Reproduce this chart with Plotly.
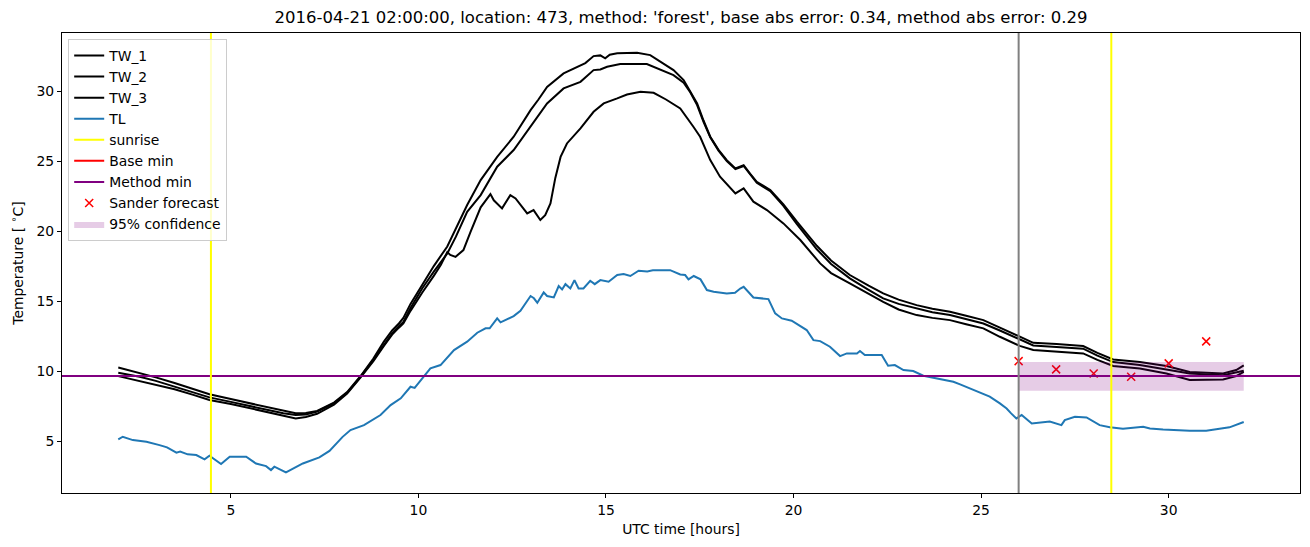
import plotly.graph_objects as go

# TW sensors (three black lines), hours UTC and temperature
tw1_hours = [2.0, 2.57, 3.0, 3.5, 4.0, 4.43, 5.0, 5.5, 6.0, 6.4, 6.73, 7.0, 7.3, 7.75, 8.1, 8.46,
             8.8, 9.08, 9.3, 9.48, 9.6, 9.79, 10.1, 10.41, 10.77, 11.0, 11.3, 11.66, 12.1, 12.54,
             12.99, 13.2, 13.43, 13.87, 14.23, 14.45, 14.67, 14.85, 14.98, 15.1, 15.3, 15.55,
             15.83, 16.18, 16.45, 16.8, 17.07, 17.25, 17.43, 17.6, 17.78, 18.0, 18.22, 18.45,
             18.67, 18.84, 19.02, 19.38, 19.73, 20.09, 20.62, 21.0, 21.5, 22.0, 22.39, 22.8,
             23.28, 23.7, 24.17, 24.6, 25.06, 25.5, 26.03, 26.39, 27.01, 27.72, 28.1, 28.52,
             29.23, 29.94, 30.56, 31.45, 31.8, 32.0]
tw1_temp = [10.26, 9.88, 9.55, 9.15, 8.72, 8.34, 8.0, 7.7, 7.4, 7.15, 6.98, 7.0, 7.15, 7.75, 8.5, 9.65,
            10.9, 12.1, 12.9, 13.4, 13.8, 14.8, 16.2, 17.5, 18.9, 20.2, 21.86, 23.64, 25.3, 26.74,
            28.64, 29.4, 30.3, 31.26, 31.74, 32.0, 32.5, 32.55, 32.34, 32.6, 32.7, 32.72,
            32.74, 32.57, 32.1, 31.5, 30.79, 30.0, 29.12, 27.9, 26.74, 25.8, 25.07, 24.48,
            24.71, 24.1, 23.52, 22.93, 21.9, 20.67, 18.95, 17.9, 16.86, 16.1, 15.55, 15.1,
            14.71, 14.45, 14.24, 13.95, 13.64, 13.1, 12.45, 12.02, 11.93, 11.79, 11.3, 10.83,
            10.64, 10.36, 9.93, 9.83, 10.07, 10.4]

tw2_hours = [2.0, 2.57, 3.0, 3.5, 4.0, 4.43, 5.0, 5.5, 6.0, 6.4, 6.73, 7.0, 7.3, 7.75, 8.1, 8.46,
             8.8, 9.08, 9.3, 9.48, 9.6, 9.79, 10.1, 10.41, 10.77, 11.0, 11.3, 11.66, 12.1, 12.54,
             12.99, 13.43, 13.87, 14.32, 14.67, 14.85, 15.03, 15.38, 16.09, 16.45, 16.8, 17.07,
             17.25, 17.43, 17.6, 17.78, 18.0, 18.22, 18.45, 18.67, 18.84, 19.02, 19.38, 19.73,
             20.09, 20.62, 21.0, 21.5, 22.0, 22.39, 22.8, 23.28, 23.7, 24.17, 24.6, 25.06, 25.5,
             26.03, 26.39, 27.01, 27.72, 28.1, 28.52, 29.23, 29.94, 30.56, 31.45, 31.8, 32.0]
tw2_temp = [9.88, 9.6, 9.3, 8.9, 8.5, 8.12, 7.8, 7.5, 7.2, 6.98, 6.86, 6.9, 7.1, 7.7, 8.45, 9.6,
            10.8, 11.9, 12.7, 13.2, 13.5, 14.5, 15.9, 17.1, 18.4, 19.6, 21.38, 22.57, 24.6, 25.79,
            27.45, 29.12, 30.19, 30.66, 31.5, 31.55, 31.74, 31.93, 31.93, 31.5, 31.14, 30.6,
            29.9, 29.0, 27.8, 26.7, 25.75, 25.0, 24.42, 24.65, 24.05, 23.45, 22.85, 21.8,
            20.5, 18.7, 17.65, 16.62, 15.8, 15.19, 14.8, 14.48, 14.2, 14.0, 13.7, 13.4, 12.9,
            12.26, 11.83, 11.72, 11.6, 11.1, 10.64, 10.43, 10.12, 9.83, 9.71, 9.88, 10.02]

tw3_hours = [2.0, 2.57, 3.0, 3.5, 4.0, 4.43, 5.0, 5.5, 6.0, 6.4, 6.73, 7.0, 7.3, 7.75, 8.1, 8.46,
             8.8, 9.08, 9.3, 9.48, 9.6, 9.79, 10.1, 10.41, 10.6, 10.77, 10.85, 10.99, 11.2, 11.39,
             11.66, 11.92, 12.01, 12.23, 12.45, 12.59, 12.9, 13.07, 13.25, 13.38, 13.52, 13.65,
             13.79, 13.96, 14.32, 14.67, 14.94, 15.3, 15.56, 15.92, 16.27, 16.6, 16.98, 17.33,
             17.51, 17.78, 18.04, 18.45, 18.67, 18.93, 19.29, 19.73, 20.18, 20.71, 21.0, 21.5,
             22.0, 22.39, 22.8, 23.28, 23.7, 24.17, 24.6, 25.06, 25.5, 26.03, 26.39, 27.01,
             27.72, 28.1, 28.52, 29.23, 29.94, 30.56, 31.45, 31.8, 32.0]
tw3_temp = [9.64, 9.3, 9.05, 8.7, 8.3, 7.93, 7.65, 7.35, 7.05, 6.8, 6.62, 6.72, 6.95, 7.6, 8.4, 9.55,
            10.7, 11.8, 12.6, 13.1, 13.4, 14.3, 15.6, 16.8, 17.6, 18.5, 18.3, 18.16, 18.64, 19.95,
            21.7, 22.64, 22.2, 21.62, 22.57, 22.33, 21.26, 21.5, 20.79, 21.14, 21.98, 23.8,
            25.3, 26.26, 27.33, 28.52, 29.12, 29.48, 29.76, 29.95, 29.88, 29.4, 28.76, 27.45,
            26.74, 25.07, 23.88, 22.69, 23.05, 22.1, 21.5, 20.55, 19.36, 17.69, 17.0, 16.26,
            15.5, 14.95, 14.4, 14.0, 13.8, 13.64, 13.35, 13.05, 12.45, 11.8, 11.5, 11.4,
            11.26, 10.8, 10.36, 10.19, 9.83, 9.36, 9.4, 9.64, 9.95]

# TL (air temperature)
tl_hours = [2.0, 2.12, 2.39, 2.75, 3.1, 3.3, 3.55, 3.65, 3.85, 4.08, 4.3, 4.43, 4.74, 4.97, 5.41,
            5.67, 5.94, 6.07, 6.16, 6.47, 6.92, 7.36, 7.63, 7.98, 8.19, 8.55, 8.99, 9.26, 9.53,
            9.79, 9.9, 10.32, 10.59, 10.95, 11.3, 11.57, 11.79, 11.9, 12.1, 12.19, 12.54, 12.72,
            12.99, 13.08, 13.17, 13.34, 13.43, 13.61, 13.74, 13.83, 13.92, 14.05, 14.16, 14.27,
            14.4, 14.58, 14.7, 14.85, 15.07, 15.3, 15.47, 15.65, 15.87, 16.1, 16.25, 16.45,
            16.71, 16.98, 17.11, 17.2, 17.34, 17.52, 17.69, 17.87, 18.22, 18.44, 18.58, 18.67,
            18.93, 19.33, 19.51, 19.69, 19.95, 20.35, 20.53, 20.71, 20.97, 21.24, 21.42, 21.69,
            21.77, 21.9, 22.35, 22.52, 22.7, 22.93, 23.19, 23.46, 23.9, 24.26, 24.44, 24.7,
            24.97, 25.23, 25.5, 25.68, 25.8, 25.94, 26.08, 26.35, 26.83, 27.14, 27.23, 27.5,
            27.81, 28.16, 28.43, 28.78, 29.32, 29.5, 29.85, 30.56, 31.0, 31.62, 32.0]
tl_temp = [5.12, 5.31, 5.07, 4.95, 4.71, 4.55, 4.17, 4.25, 4.05, 4.0, 3.69, 3.95, 3.36, 3.88, 3.88,
           3.4, 3.21, 2.93, 3.17, 2.76, 3.4, 3.83, 4.3, 5.3, 5.79, 6.14, 6.86, 7.57, 8.05,
           8.88, 8.8, 10.19, 10.43, 11.5, 12.1, 12.74, 13.05, 13.05, 13.76, 13.48, 13.93, 14.31,
           15.36, 15.2, 14.88, 15.62, 15.36, 15.26, 16.07, 15.83, 16.21, 15.9, 16.5, 15.9,
           15.9, 16.45, 16.21, 16.5, 16.38, 16.86, 16.93, 16.79, 17.17, 17.12, 17.2, 17.21,
           17.21, 16.9, 16.86, 16.55, 16.79, 16.55, 15.79, 15.67, 15.55, 15.6, 15.9, 16.02,
           15.26, 15.14, 14.12, 13.76, 13.6, 12.93, 12.21, 12.14, 11.74, 11.07, 11.26, 11.26,
           11.43, 11.14, 11.14, 10.38, 10.43, 10.07, 10.0, 9.67, 9.43, 9.24, 9.05, 8.76,
           8.5, 8.17, 7.69, 7.33, 6.98, 6.62, 6.86, 6.26, 6.4, 6.14, 6.5, 6.74,
           6.69, 6.14, 5.98, 5.88, 6.02, 5.9, 5.83, 5.74, 5.74, 5.98, 6.36]

sunrise_hours = [4.47, 28.47]
forecast_start = 26.0
base_min = 9.64
method_min = 9.64

sander_hours = [26, 27, 28, 29, 30, 31]
sander_temp = [10.71, 10.12, 9.83, 9.6, 10.55, 12.12]

conf_hours = [26.0, 32.0]
conf_low = 8.59
conf_high = 10.64

title = "2016-04-21 02:00:00, location: 473, method: 'forest', base abs error: 0.34, method abs error: 0.29"

fig = go.Figure()
for name, xs, ys in [("TW_1", tw1_hours, tw1_temp), ("TW_2", tw2_hours, tw2_temp),
                     ("TW_3", tw3_hours, tw3_temp)]:
    fig.add_trace(go.Scatter(x=xs, y=ys, mode="lines", name=name,
                             line=dict(color="black", width=2)))
fig.add_trace(go.Scatter(x=tl_hours, y=tl_temp, mode="lines", name="TL",
                         line=dict(color="#1f77b4", width=2)))

# legend-only entries for the reference lines
fig.add_trace(go.Scatter(x=[None], y=[None], mode="lines", name="sunrise",
                         line=dict(color="yellow", width=2)))
fig.add_trace(go.Scatter(x=[None], y=[None], mode="lines", name="Base min",
                         line=dict(color="red", width=2)))
fig.add_trace(go.Scatter(x=[None], y=[None], mode="lines", name="Method min",
                         line=dict(color="purple", width=2)))

fig.add_trace(go.Scatter(x=sander_hours, y=sander_temp, mode="markers", name="Sander forecast",
                         marker=dict(symbol="x-thin", size=8, color="red",
                                     line=dict(color="red", width=1.5))))

cx = [conf_hours[0], conf_hours[1], conf_hours[1], conf_hours[0], conf_hours[0]]
cy = [conf_low, conf_low, conf_high, conf_high, conf_low]
fig.add_trace(go.Scatter(x=cx, y=cy, mode="lines", fill="toself", name="95% confidence",
                         fillcolor="rgba(128,0,128,0.2)", line=dict(width=0)))

fig.add_hline(y=base_min, line=dict(color="red", width=2))
fig.add_hline(y=method_min, line=dict(color="purple", width=2))
fig.add_vline(x=forecast_start, line=dict(color="gray", width=2))
for h in sunrise_hours:
    fig.add_vline(x=h, line=dict(color="yellow", width=2))

axis_style = dict(showline=True, linecolor="black", linewidth=1, mirror=True,
                  ticks="outside", ticklen=4, tickcolor="black", showgrid=False,
                  zeroline=False, automargin=False, tickfont=dict(size=13.9, color="black"))
fig.update_xaxes(range=[0.5, 33.5], tickvals=[5, 10, 15, 20, 25, 30],
                 title=dict(text="UTC time [hours]", font=dict(size=13.9, color="black"), standoff=7),
                 **axis_style)
fig.update_yaxes(range=[1.29, 34.15], tickvals=[5, 10, 15, 20, 25, 30],
                 title=dict(text="Temperature [ <sup>∘</sup>C]", font=dict(size=13.9, color="black"),
                            standoff=11),
                 **axis_style)

# the page body adds an 8px offset, so margins are shifted to compensate
fig.update_layout(
    width=1310, height=547,
    margin=dict(l=54, r=18, t=25, b=62),
    paper_bgcolor="white", plot_bgcolor="white",
    font=dict(family="DejaVu Sans", color="black"),
    title=dict(text=title, x=0.5, xref="paper", y=1 - 9 / 547, yref="container",
               yanchor="middle", font=dict(size=16.5, color="black")),
    legend=dict(x=0.005, y=0.987, xanchor="left", yanchor="top",
                bgcolor="rgba(255,255,255,0.8)", bordercolor="#cccccc", borderwidth=1,
                font=dict(size=13.9, color="black"), tracegroupgap=0),
    showlegend=True,
)

fig.write_html("out.html")
